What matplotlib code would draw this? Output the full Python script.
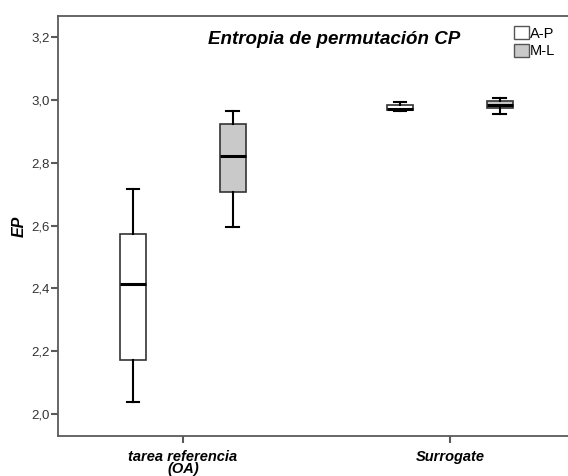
import numpy as np
import matplotlib
matplotlib.use("Agg")
import matplotlib.pyplot as plt
from matplotlib.patches import Patch
from matplotlib.ticker import FuncFormatter

plt.rcParams['font.family'] = ['Liberation Sans', 'DejaVu Sans']

# condiciones y grupos
categorias = ["tarea referencia\n(OA)", "Surrogate"]
grupos = ["A-P", "M-L"]

# resumen de cajas: [bigote inf, Q1, mediana, Q3, bigote sup] por condicion
ap_stats = [
    [2.038, 2.172, 2.413, 2.572, 2.716],
    [2.966, 2.968, 2.972, 2.983, 2.995],
]
ml_stats = [
    [2.596, 2.707, 2.821, 2.923, 2.966],
    [2.954, 2.974, 2.984, 2.998, 3.007],
]

colores = {"A-P": "white", "M-L": "#c9c9c9"}
spine_col = "#5a5a5a"


def to_bxp(rows):
    out = []
    for r in rows:
        out.append(dict(whislo=r[0], q1=r[1], med=r[2], q3=r[3], whishi=r[4], fliers=[]))
    return out


fig = plt.figure(figsize=(5.68, 4.76), dpi=100)
ax = fig.add_axes([0.1016, 0.084, 0.911, 0.882])

x = np.arange(len(categorias))
offset = 0.187
ancho = 0.097

for stats, desp, g in [(ap_stats, -offset, "A-P"), (ml_stats, offset, "M-L")]:
    ax.bxp(to_bxp(stats), positions=x + desp, widths=ancho, capwidths=ancho * 0.5,
           patch_artist=True, showfliers=False, manage_ticks=False,
           boxprops=dict(facecolor=colores[g], edgecolor="#333333", linewidth=1.2),
           medianprops=dict(color="black", linewidth=2.2),
           whiskerprops=dict(color="black", linewidth=1.5),
           capprops=dict(color="black", linewidth=1.5))

ax.set_xlim(-0.469, 1.469)
ax.set_ylim(1.93, 3.267)
ax.set_xticks(x)
ax.set_xticklabels(categorias, fontsize=10.5, fontweight="bold", fontstyle="italic",
                   linespacing=0.8)
ax.set_yticks([2.0, 2.2, 2.4, 2.6, 2.8, 3.0, 3.2])
ax.yaxis.set_major_formatter(FuncFormatter(lambda v, p: f"{v:.1f}".replace(".", ",")))
ax.tick_params(axis="y", labelsize=9.5, labelcolor="#333333", length=5, width=1.5,
               color=spine_col, pad=1)
ax.tick_params(axis="x", length=5, width=1.5, color=spine_col, pad=5)

for s in ax.spines.values():
    s.set_color(spine_col)
    s.set_linewidth(1.3)

ax.set_ylabel("EP", fontsize=11.5, fontweight="bold", fontstyle="italic")
ax.yaxis.set_label_coords(-0.06, 0.5)

fig.text(0.588, 0.916, "Entropia de permutación CP", ha="center", va="center",
         fontsize=13.5, fontweight="bold", fontstyle="italic")

handles = [Patch(facecolor=colores[g], edgecolor="#555555", linewidth=1.0) for g in grupos]
fig.legend(handles, grupos, loc="upper left", bbox_to_anchor=(0.905, 0.945),
           frameon=False, fontsize=10.5, handlelength=1.0, handleheight=1.0,
           handletextpad=0.1, labelspacing=0.2, borderpad=0, borderaxespad=0)

fig.savefig("out.png", dpi=100)
